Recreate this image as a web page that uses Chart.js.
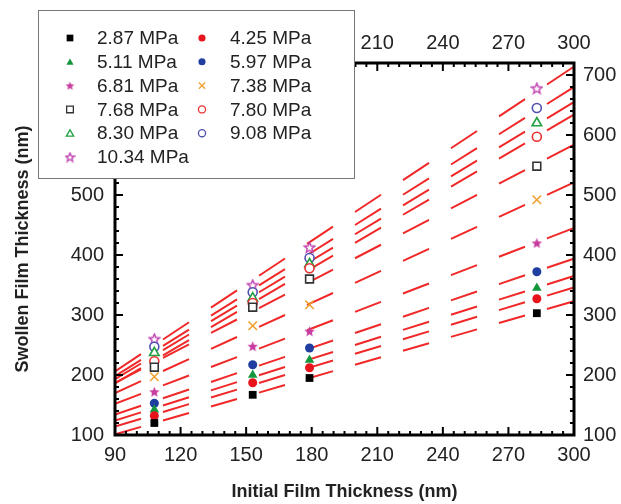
<!DOCTYPE html>
<html>
<head>
<meta charset="utf-8">
<script src="https://cdn.jsdelivr.net/npm/chart.js@4"></script>
<style>
  html, body { margin: 0; background: #fff; }
</style>
</head>
<body>
<canvas id="chart" width="621" height="504"></canvas>
<script>
// initial film thickness of the four films (nm)
const initialThickness = [108, 153, 179, 283];

const pressureLabels = ['2.87 MPa', '4.25 MPa', '5.11 MPa', '5.97 MPa', '6.81 MPa', '7.38 MPa',
                        '7.68 MPa', '7.80 MPa', '8.30 MPa', '9.08 MPa', '10.34 MPa'];

// swollen thickness (nm) at each initial thickness
const p287  = [120, 167, 195, 303];
const p425  = [132, 187, 212, 327];
const p511  = [142, 200, 225, 345];
const p597  = [153, 217, 245, 372];
const p681  = [172, 248, 273, 420];
const p738  = [197, 282, 317, 492];
const p768  = [213, 313, 360, 548];
const p780  = [223, 320, 378, 597];
const p830  = [237, 328, 385, 620];
const p908  = [247, 338, 395, 645];
const p1034 = [260, 350, 413, 678];

// linear fit lines, read at x = 90 and x = 300
const fitAt90  = [101, 114, 124, 134, 152, 170, 187, 186, 193, 198, 206];
const fitAt300 = [323, 346, 365, 394, 445, 521, 584, 634, 655, 680, 714];

const xTicks = [90, 120, 150, 180, 210, 240, 270, 300];
const yTicks = [100, 200, 300, 400, 500, 600, 700];

const allSeries = [p287, p425, p511, p597, p681, p738, p768, p780, p830, p908, p1034];

// marker looks
const colors = ['#000000', '#e8141b', '#14973c', '#1f3ea0', '#c83ca0', '#f0a030',
                '#333333', '#e83030', '#20a040', '#5050b0', '#c040b0'];
const shapes = ['rect', 'circle', 'triangle', 'circle', 'star', 'crossRot',
                'rect', 'circle', 'triangle', 'circle', 'star'];
const hollow = [false, false, false, false, false, false, true, true, true, true, true];

function makeStar(size, color, open) {
    const c = document.createElement('canvas');
    c.width = size; c.height = size;
    const g = c.getContext('2d');
    const R = size / 2 - 1, r = R * 0.45, cx = size / 2, cy = size / 2 + 0.5;
    g.beginPath();
    for (let i = 0; i < 10; i++) {
        const a = -Math.PI / 2 + i * Math.PI / 5;
        const rad = i % 2 ? r : R;
        g.lineTo(cx + rad * Math.cos(a), cy + rad * Math.sin(a));
    }
    g.closePath();
    if (open) {
        g.fillStyle = '#fff'; g.fill();
        g.lineWidth = 1.4; g.strokeStyle = color; g.stroke();
    } else {
        g.fillStyle = color; g.fill();
    }
    return c;
}

function pointStyleFor(i, size) {
    if (shapes[i] === 'star') return makeStar(size, colors[i], hollow[i]);
    return shapes[i];
}

function radiusFor(i) {
    if (shapes[i] === 'rect') return 5.5;
    if (shapes[i] === 'triangle') return 5.5;
    if (shapes[i] === 'crossRot') return 6;
    return 4.5;
}

const datasets = [];
allSeries.forEach((vals, i) => {
    datasets.push({
        label: pressureLabels[i],
        data: initialThickness.map((x, k) => ({x: x, y: vals[k]})),
        showLine: false,
        pointStyle: pointStyleFor(i, 13),
        pointRadius: radiusFor(i),
        pointBackgroundColor: hollow[i] ? '#ffffff' : colors[i],
        pointBorderColor: colors[i],
        pointBorderWidth: hollow[i] || shapes[i] === 'crossRot' ? 1.6 : 0,
        order: 0
    });
});

// dash is set in x pixels in the original, so stretch it by the slope
const pxPerX = 459 / 210, pxPerY = 372 / 620;
allSeries.forEach((vals, i) => {
    const s = (fitAt300[i] - fitAt90[i]) * pxPerY / (210 * pxPerX);
    const f = Math.sqrt(1 + s * s);
    datasets.push({
        label: 'fit ' + pressureLabels[i],
        data: [{x: 90, y: fitAt90[i]}, {x: 300, y: fitAt300[i]}],
        borderColor: '#f02828',
        borderWidth: 2,
        borderDash: [26 * f, 22 * f],
        pointRadius: 0,
        fill: false,
        order: 1
    });
});

const tickFont = {family: 'Liberation Sans, Arial, sans-serif', size: 20};
const titleFont = {family: 'Liberation Sans, Arial, sans-serif', size: 18, weight: 'bold'};
const noGrid = {display: false, drawTicks: false};

const framePlugin = {
    id: 'frame',
    afterDatasetsDraw(chart) {
        const {ctx, chartArea: a} = chart;
        const x = chart.scales.x, y = chart.scales.y;
        ctx.save();
        ctx.strokeStyle = '#000';
        ctx.lineWidth = 2;
        for (let v = 90; v <= 300; v += 5) {
            const px = x.getPixelForValue(v);
            const len = v % 30 === 0 ? 8 : 4;
            ctx.beginPath();
            ctx.moveTo(px, a.bottom); ctx.lineTo(px, a.bottom - len);
            ctx.moveTo(px, a.top); ctx.lineTo(px, a.top + len);
            ctx.stroke();
        }
        for (let v = 100; v <= 720; v += 20) {
            const py = y.getPixelForValue(v);
            const len = v % 100 === 0 ? 8 : 4;
            ctx.beginPath();
            ctx.moveTo(a.left, py); ctx.lineTo(a.left + len, py);
            ctx.moveTo(a.right, py); ctx.lineTo(a.right - len, py);
            ctx.stroke();
        }
        ctx.lineWidth = 3;
        ctx.strokeRect(a.left, a.top, a.right - a.left, a.bottom - a.top);
        ctx.restore();
    }
};

function drawMarker(ctx, i, cx, cy, r) {
    ctx.save();
    ctx.fillStyle = hollow[i] ? '#fff' : colors[i];
    ctx.strokeStyle = colors[i];
    ctx.lineWidth = 1.3;
    ctx.beginPath();
    const shape = shapes[i];
    if (shape === 'star') {
        const img = makeStar(Math.round(r * 2.6), colors[i], hollow[i]);
        ctx.drawImage(img, cx - img.width / 2, cy - img.height / 2);
        ctx.restore();
        return;
    }
    if (shape === 'rect') {
        const h = r * 0.8;
        ctx.rect(cx - h, cy - h, 2 * h, 2 * h);
    } else if (shape === 'circle') {
        ctx.arc(cx, cy, r * 0.85, 0, Math.PI * 2);
    } else if (shape === 'triangle') {
        for (let k = 0; k < 3; k++) {
            const ang = -Math.PI / 2 + k * 2 * Math.PI / 3;
            ctx.lineTo(cx + r * Math.cos(ang), cy + r * Math.sin(ang) + 0.8);
        }
        ctx.closePath();
    } else if (shape === 'crossRot') {
        const h = r * 0.75;
        ctx.moveTo(cx - h, cy - h); ctx.lineTo(cx + h, cy + h);
        ctx.moveTo(cx + h, cy - h); ctx.lineTo(cx - h, cy + h);
        ctx.stroke();
        ctx.restore();
        return;
    }
    ctx.fill();
    if (hollow[i]) ctx.stroke();
    ctx.restore();
}

const boxLegendPlugin = {
    id: 'boxLegend',
    afterDraw(chart) {
        const ctx = chart.ctx;
        ctx.save();
        ctx.fillStyle = '#fff';
        ctx.fillRect(38, 10, 316, 168);
        ctx.strokeStyle = '#777';
        ctx.lineWidth = 1;
        ctx.strokeRect(38.5, 10.5, 316, 168);
        ctx.font = '19px "Liberation Sans", Arial, sans-serif';
        ctx.fillStyle = '#222';
        ctx.textBaseline = 'middle';
        pressureLabels.forEach((lab, i) => {
            const row = Math.floor(i / 2), col = i % 2;
            const y = 38 + row * 23.8;
            const mx = col ? 202 : 70;
            const tx = col ? 230 : 97;
            drawMarker(ctx, i, mx, y, 4.2);
            ctx.fillStyle = '#222';
            ctx.fillText(lab, tx, y + 1);
        });
        ctx.restore();
    }
};

new Chart(document.getElementById('chart'), {
    type: 'line',
    data: {datasets: datasets},
    options: {
        responsive: false,
        animation: false,
        layout: {padding: 0},
        plugins: {legend: {display: false}, tooltip: {enabled: false}},
        scales: {
            x: {
                type: 'linear', position: 'bottom', min: 90, max: 300,
                afterBuildTicks: s => { s.ticks = xTicks.map(v => ({value: v})); },
                ticks: {font: tickFont, color: '#222', padding: 8, maxRotation: 0},
                grid: noGrid, border: {display: false},
                title: {display: true, text: 'Initial Film Thickness (nm)', font: titleFont, color: '#222', padding: {top: 0, bottom: 1}},
                afterFit: s => { s.height = 69; }
            },
            xTop: {
                type: 'linear', position: 'top', min: 90, max: 300,
                afterBuildTicks: s => { s.ticks = xTicks.map(v => ({value: v})); },
                ticks: {font: tickFont, color: '#222', padding: 8, maxRotation: 0},
                grid: noGrid, border: {display: false},
                afterFit: s => { s.height = 63; }
            },
            y: {
                type: 'linear', position: 'left', min: 100, max: 720,
                afterBuildTicks: s => { s.ticks = yTicks.map(v => ({value: v})); },
                ticks: {font: tickFont, color: '#222', padding: 11},
                grid: noGrid, border: {display: false},
                title: {display: true, text: 'Swollen Film Thickness (nm)', font: titleFont, color: '#222', padding: {top: 12, bottom: 0}},
                afterFit: s => { s.width = 115; }
            },
            yRight: {
                type: 'linear', position: 'right', min: 100, max: 720,
                afterBuildTicks: s => { s.ticks = yTicks.map(v => ({value: v})); },
                ticks: {font: tickFont, color: '#222', padding: 9},
                grid: noGrid, border: {display: false},
                afterFit: s => { s.width = 47; }
            }
        }
    },
    plugins: [framePlugin, boxLegendPlugin]
});
</script>
</body>
</html>
